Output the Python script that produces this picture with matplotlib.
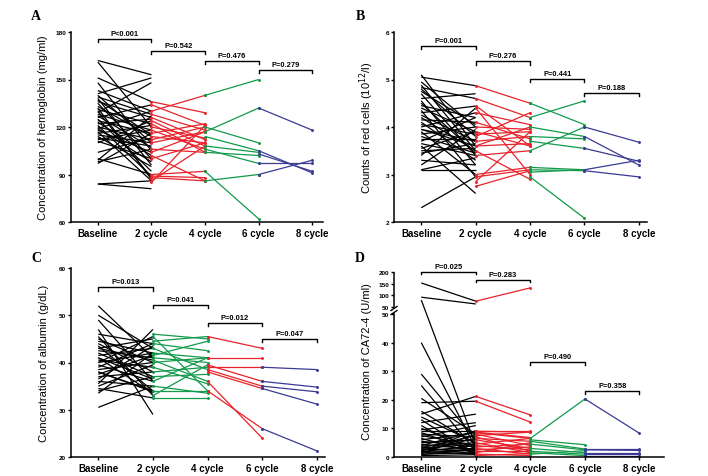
import matplotlib
matplotlib.use("Agg")
import matplotlib.pyplot as plt
import numpy as np

plt.rcParams["font.family"] = ["Liberation Sans", "DejaVu Sans"]

W, H = 708, 477
cycles = ["Baseline", "2 cycle", "4 cycle", "6 cycle", "8 cycle"]

black = "#000000"
red = "#e8232b"
green = "#129a4b"
blue = "#3b3b94"

# ---- A: hemoglobin (mg/ml), pairs (start, end) per interval
hb_base_c2 = [(162, 153), (161, 120), (151, 136), (148, 105), (143, 130), (141, 151), (140, 110),
              (139, 128), (138, 96), (136, 126), (135, 100), (133, 114), (131, 122), (130, 88),
              (129, 148), (128, 118), (127, 107), (126, 134), (125, 92), (124, 116), (123, 102),
              (122, 125), (121, 89), (120, 112), (119, 130), (118, 104), (117, 86), (116, 121),
              (115, 110), (114, 95), (113, 108), (112, 118), (111, 100), (110, 124), (104, 113),
              (100, 90), (99, 127), (98, 106), (97, 116), (84, 86), (84, 81), (132, 87),
              (137, 115), (119, 98)]
hb_c2_c4 = [(136, 129), (134, 121), (130, 140), (128, 118), (126, 112), (124, 108), (122, 104),
            (120, 113), (118, 106), (116, 122), (114, 110), (112, 120), (110, 117), (106, 104),
            (104, 117), (102, 86), (100, 110), (90, 92), (88, 86), (86, 108), (85, 121), (89, 88)]
hb_c4_c6 = [(140, 150), (117, 132), (120, 110), (114, 105), (108, 104), (106, 97), (104, 102),
            (92, 62), (86, 90)]
hb_c6_c8 = [(132, 118), (105, 91), (103, 92), (97, 97), (90, 99)]

# ---- B: red cells (10^12/l)
rbc_base_c2 = [(5.1, 3.6), (5.05, 4.87), (4.95, 4.0), (4.88, 3.5), (4.83, 4.6), (4.8, 3.8),
               (4.7, 3.4), (4.6, 4.7), (4.55, 3.2), (4.45, 4.2), (4.4, 3.9), (4.35, 2.95),
               (4.3, 4.44), (4.25, 3.7), (4.2, 3.5), (4.15, 4.1), (4.1, 3.3), (4.05, 3.85),
               (4.0, 4.3), (3.95, 3.6), (3.9, 3.0), (3.85, 4.0), (3.8, 3.45), (3.75, 3.75),
               (3.7, 4.2), (3.65, 3.4), (3.6, 2.6), (3.55, 3.9), (3.5, 3.55), (3.45, 3.65),
               (3.4, 4.4), (3.3, 3.2), (3.2, 3.95), (3.1, 3.1), (3.1, 3.35), (2.3, 2.95),
               (4.5, 3.45), (4.75, 4.05), (3.95, 3.7)]
rbc_c2_c4 = [(4.87, 4.5), (4.6, 4.2), (4.45, 3.6), (4.4, 3.0), (4.3, 4.05), (4.1, 3.75),
             (4.0, 3.95), (3.9, 3.6), (3.85, 3.9), (3.7, 3.8), (3.6, 4.0), (3.5, 2.9),
             (3.4, 3.5), (3.0, 3.15), (2.95, 3.1), (2.85, 3.9), (2.75, 3.08), (3.8, 4.3),
             (3.6, 3.65)]
rbc_c4_c6 = [(4.5, 4.05), (4.2, 4.55), (4.0, 3.8), (3.8, 3.75), (3.7, 3.55), (3.5, 4.0),
             (3.15, 3.1), (3.1, 3.08), (3.05, 3.1), (2.95, 2.08)]
rbc_c6_c8 = [(4.0, 3.68), (3.8, 3.2), (3.55, 3.28), (3.1, 3.3), (3.08, 2.95)]

# ---- C: albumin (g/dL)
alb_base_c2 = [(52, 41), (50, 43), (49, 36), (46, 44), (45.5, 33), (45, 40), (44.5, 42), (44, 38),
               (43.5, 34), (43, 45), (42.5, 41), (42, 37), (41.5, 43), (41, 33.5), (40.5, 39),
               (40, 42), (39.5, 36), (39, 44), (38.5, 40), (38, 34), (37.5, 41.5), (37, 38),
               (36.5, 43.5), (36, 35), (35.5, 47), (35, 39.5), (34.5, 32.5), (34, 37),
               (33.5, 42), (30.5, 35), (47, 29), (40, 45.5), (38, 33.8), (41, 36.5), (43, 40.5)]
alb_c2_c4 = [(46, 45), (45.5, 34), (44.5, 45.5), (44, 42.5), (43, 38.5), (42, 41), (41.5, 44.5),
             (41, 40), (40.5, 36), (40, 41), (39, 35.5), (38, 39), (37, 37.5), (36, 41),
             (35, 33.5), (34, 34), (33, 39.5), (32.5, 32.5)]
alb_c4_c6 = [(45.5, 43), (41, 41), (39, 39), (39.5, 36), (38.5, 35), (38, 34.5), (36, 24), (34, 26)]
alb_c6_c8 = [(39, 38.5), (36, 34.8), (35, 33.8), (34.5, 31.2), (26, 21.3)]

# ---- D: CA72-4 (U/ml)
ca_base_c2 = [(153, 75), (92, 63), (80, 4), (40, 3), (29, 6), (25, 2), (20.5, 8), (19, 19.5),
              (15, 21.2), (14, 5), (13, 1), (12, 15), (10, 3), (9.5, 12), (9, 9), (8.5, 2),
              (8, 7), (7.5, 4), (7, 11), (6.5, 1.5), (6, 8.5), (5.5, 3.5), (5, 6), (4.5, 2.5),
              (4, 9), (3.8, 5), (3.5, 1), (3.2, 7.5), (3, 4.5), (2.8, 2), (2.5, 3), (2.2, 6.5),
              (2, 1), (1.8, 4), (1.5, 2.5), (1.2, 8), (1, 1.5), (0.8, 3), (0.5, 0.8),
              (16, 4.5), (11, 0.5), (2.0, 9.2)]
ca_c2_c4 = [(75, 132), (21.2, 14.7), (19.5, 12.2), (9, 8.7), (8.5, 6.5), (8, 4), (7.5, 8.7),
            (7, 2), (6.5, 5.5), (6, 3), (5, 1.5), (4.5, 6.5), (4, 2.5), (3.5, 4.5), (3, 1),
            (2.5, 3.5), (2, 2), (1.5, 5), (1, 0.5), (0.5, 1.2), (9.2, 9.2), (8.7, 6.8)]
ca_c4_c6 = [(6.5, 20.3), (6, 4.3), (5.5, 2.8), (4.5, 2.5), (3, 1.5), (2, 1), (1.5, 0.5), (1, 2.2)]
ca_c6_c8 = [(20.3, 8.3), (2.8, 2.8), (2.5, 2.3), (1.5, 1.5), (1, 1), (0.5, 0.5)]

p_hb = ["P<0.001", "P=0.542", "P=0.476", "P=0.279"]
p_rbc = ["P=0.001", "P=0.276", "P=0.441", "P=0.188"]
p_alb = ["P=0.013", "P=0.041", "P=0.012", "P=0.047"]
p_ca = ["P=0.025", "P=0.283", "P=0.490", "P=0.358"]

# broken y scale for CA72-4: 0-50 linear, small gap, then 50-200 compressed
BRK = 50.0
GAP_TOP = 52.45
K = 0.0816


def ca_forward(y):
    y = np.asarray(y, dtype=float)
    return np.where(y <= BRK, y, GAP_TOP + (y - BRK) * K)


def ca_inverse(t):
    t = np.asarray(t, dtype=float)
    return np.where(t <= BRK, t, np.where(t < GAP_TOP, BRK, BRK + (t - GAP_TOP) / K))


def px_axes(fig, left, right, top, bottom):
    return fig.add_axes([left / W, 1 - bottom / H, (right - left) / W, (bottom - top) / H])


def style_axes(ax):
    for s in ["top", "right"]:
        ax.spines[s].set_visible(False)
    ax.spines["left"].set_linewidth(1.1)
    ax.spines["bottom"].set_linewidth(1.1)
    ax.tick_params(axis="y", direction="out", length=2.5, width=1.0, labelsize=4.6, pad=1)
    ax.tick_params(axis="x", direction="out", length=2.5, width=1.0, labelsize=7, pad=2)
    ax.set_xticks(range(5))
    ax.set_xticklabels(cycles, fontweight="bold")
    for lab in ax.get_yticklabels():
        lab.set_fontweight("bold")


def draw_segment(ax, pairs, x0, color):
    ms = 0 if color == black else 1.1
    for a, b in pairs:
        ax.plot([x0, x0 + 1], [a, b], color=color, lw=0.9, marker="o", ms=ms,
                solid_capstyle="butt")


def bracket(ax, i, y, d, text):
    ax.plot([i, i, i + 1, i + 1], [y - d, y, y, y - d], color="black", lw=1.0, clip_on=False)
    ax.annotate(text, xy=(i + 0.5, y), xytext=(0, 1.5), textcoords="offset points",
                ha="center", va="bottom", fontsize=5.4, fontweight="bold", annotation_clip=False)


fig = plt.figure(figsize=(W / 100, H / 100), dpi=100)

# A
axA = px_axes(fig, 71, 323, 33, 223)
for pairs, x0, c in [(hb_base_c2, 0, black), (hb_c2_c4, 1, red), (hb_c4_c6, 2, green), (hb_c6_c8, 3, blue)]:
    draw_segment(axA, pairs, x0, c)
axA.set_ylim(60, 180)
axA.set_yticks([60, 90, 120, 150, 180])
axA.set_xlim(-0.5, 4.2)
style_axes(axA)
for i, (y, t) in enumerate(zip([175.5, 168, 161.5, 156], p_hb)):
    bracket(axA, i, y, 2.0, t)

# B
axB = px_axes(fig, 394, 647, 33, 223)
for pairs, x0, c in [(rbc_base_c2, 0, black), (rbc_c2_c4, 1, red), (rbc_c4_c6, 2, green), (rbc_c6_c8, 3, blue)]:
    draw_segment(axB, pairs, x0, c)
axB.set_ylim(2, 6)
axB.set_yticks([2, 3, 4, 5, 6])
axB.set_xlim(-0.5, 4.15)
style_axes(axB)
for i, (y, t) in enumerate(zip([5.71, 5.38, 5.01, 4.71], p_rbc)):
    bracket(axB, i, y, 0.065, t)

# C
axC = px_axes(fig, 71, 325, 269, 458)
for pairs, x0, c in [(alb_base_c2, 0, black), (alb_c2_c4, 1, green), (alb_c4_c6, 2, red), (alb_c6_c8, 3, blue)]:
    draw_segment(axC, pairs, x0, c)
axC.set_ylim(20, 60)
axC.set_yticks([20, 30, 40, 50, 60])
axC.set_xlim(-0.5, 4.15)
style_axes(axC)
for i, (y, t) in enumerate(zip([55.9, 52.2, 48.4, 45.0], p_alb)):
    bracket(axC, i, y, 0.7, t)

# D (broken y axis through a piecewise scale)
axD = px_axes(fig, 394, 664, 273, 458)
axD.set_yscale("function", functions=(ca_forward, ca_inverse))
for pairs, x0, c in [(ca_base_c2, 0, black), (ca_c2_c4, 1, red), (ca_c4_c6, 2, green), (ca_c6_c8, 3, blue)]:
    draw_segment(axD, pairs, x0, c)
axD.set_xlim(-0.5, 4.45)
axD.set_ylim(0, 200)
d_ticks = [0, 10, 20, 30, 40, 50, 50.0001, 100, 150, 200]
axD.set_yticks(d_ticks)
axD.set_yticklabels([str(int(round(v))) for v in d_ticks])
style_axes(axD)
axD.spines["left"].set_bounds(0, 50)
axD.plot([0, 0], [50.0001, 200], color="black", lw=1.1, transform=axD.get_yaxis_transform(),
         clip_on=False, solid_capstyle="butt")
bracket(axD, 0, 200, 8, p_ca[0])
bracket(axD, 1, 167, 8, p_ca[1])
bracket(axD, 2, 33.1, 1.0, p_ca[2])
bracket(axD, 3, 23.2, 1.0, p_ca[3])
# break marks on the y axis
for yb in (309.5, 313.5):
    fig.add_artist(plt.Line2D([391 / W, 397 / W], [1 - (yb + 2) / H, 1 - (yb - 2) / H],
                              color="black", lw=1.0))

# y labels
fig.text(43 / W, 1 - 128 / H, "Concentration of hemoglobin (mg/ml)", rotation=90,
         ha="center", va="center", fontsize=8)
fig.text(367 / W, 1 - 128 / H, "Counts of red cells (10$^{12}$/l)", rotation=90,
         ha="center", va="center", fontsize=8)
fig.text(44 / W, 1 - 363 / H, "Concentration of albumin (g/dL)", rotation=90,
         ha="center", va="center", fontsize=8)
fig.text(367 / W, 1 - 362 / H, "Concentration of CA72-4 (U/ml)", rotation=90,
         ha="center", va="center", fontsize=8)

# panel letters
for x, y, t in [(36, 16, "A"), (360, 16, "B"), (36, 259, "C"), (360, 258, "D")]:
    fig.text(x / W, 1 - y / H, t, ha="center", va="center", fontsize=10, fontweight="bold",
             family=["Liberation Serif", "DejaVu Serif"])

fig.savefig("out.png", dpi=100)
